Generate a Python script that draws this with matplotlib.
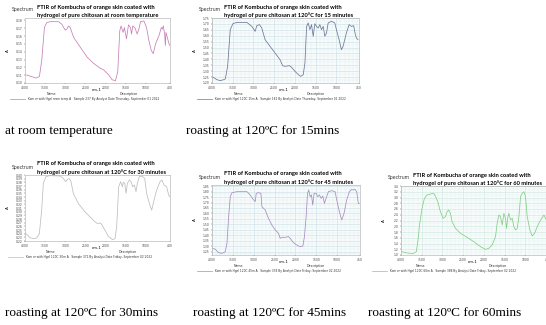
import matplotlib.pyplot as plt
from matplotlib.ticker import MultipleLocator
from matplotlib.lines import Line2D

W, H = 546, 325

# --- spectra (wavenumber cm-1, absorbance A) ---
wn_room = [3975, 3792, 3726, 3642, 3584, 3518, 3460, 3376, 3169, 3085, 3002, 2961, 2919, 2878,
           2794, 2628, 2462, 2296, 2129, 2046, 1921, 1838, 1755, 1697, 1647, 1614, 1564, 1531,
           1481, 1431, 1381, 1356, 1323, 1273, 1215, 1173, 1132, 1048, 982, 924, 866, 816, 758,
           674, 616, 591, 566, 533, 516, 500, 467, 425, 400]
ab_room = [0.1104, 0.1075, 0.1063, 0.1083, 0.1292, 0.1708, 0.1771, 0.1783, 0.1783, 0.1750,
           0.1675, 0.1688, 0.1729, 0.1708, 0.1583, 0.1458, 0.1333, 0.1250, 0.1188, 0.1167,
           0.1104, 0.1042, 0.1029, 0.1146, 0.1667, 0.1729, 0.1646, 0.1708, 0.1563, 0.1742,
           0.1708, 0.1625, 0.1729, 0.1708, 0.1625, 0.1688, 0.1783, 0.1792, 0.1708, 0.1542,
           0.1417, 0.1375, 0.1500, 0.1604, 0.1708, 0.1688, 0.1729, 0.1625, 0.1479, 0.1646,
           0.1583, 0.1500, 0.1479]

wn_15 = [3984, 3880, 3800, 3720, 3679, 3623, 3559, 3495, 3399, 3159, 3038, 2958, 2918, 2854,
         2798, 2718, 2598, 2477, 2357, 2294, 2237, 2133, 2077, 1997, 1916, 1860, 1796, 1756,
         1716, 1676, 1636, 1596, 1556, 1516, 1476, 1436, 1395, 1355, 1315, 1275, 1235, 1195,
         1115, 1035, 995, 931, 875, 835, 754, 690, 634, 578, 546, 514, 474]
ab_15 = [1.251, 1.228, 1.220, 1.228, 1.234, 1.341, 1.651, 1.702, 1.713, 1.713, 1.679, 1.637,
         1.685, 1.694, 1.665, 1.567, 1.510, 1.454, 1.397, 1.347, 1.341, 1.347, 1.333, 1.299,
         1.271, 1.256, 1.271, 1.369, 1.679, 1.708, 1.651, 1.694, 1.595, 1.702, 1.679, 1.665,
         1.694, 1.651, 1.679, 1.595, 1.623, 1.708, 1.722, 1.708, 1.651, 1.567, 1.482, 1.510,
         1.623, 1.694, 1.679, 1.685, 1.623, 1.581, 1.567]

wn_30 = [3975, 3876, 3793, 3710, 3644, 3586, 3545, 3479, 3379, 3131, 3048, 2990, 2949, 2899,
         2858, 2800, 2676, 2510, 2386, 2262, 2196, 2138, 2097, 2014, 1931, 1823, 1766, 1724,
         1674, 1625, 1583, 1559, 1525, 1492, 1459, 1410, 1368, 1327, 1285, 1244, 1211, 1161,
         1079, 1029, 979, 913, 855, 797, 731, 648, 599, 549, 483, 433, 408]
ab_30 = [0.2401, 0.2291, 0.2264, 0.2282, 0.2401, 0.3041, 0.3772, 0.3955, 0.3982, 0.3973,
         0.3909, 0.3818, 0.3882, 0.3900, 0.3818, 0.3498, 0.3224, 0.2995, 0.2858, 0.2721,
         0.2675, 0.2694, 0.2657, 0.2492, 0.2328, 0.2237, 0.2264, 0.2584, 0.3681, 0.3818,
         0.3681, 0.3800, 0.3772, 0.3498, 0.3772, 0.3863, 0.3818, 0.3681, 0.3726, 0.3544,
         0.3772, 0.3955, 0.3955, 0.3909, 0.3498, 0.3224, 0.3041, 0.3315, 0.3589, 0.3818,
         0.3863, 0.3726, 0.3681, 0.3452, 0.3406]

wn_45 = [3984, 3920, 3840, 3761, 3681, 3641, 3601, 3561, 3521, 3402, 3162, 3083, 3003, 2963,
         2939, 2883, 2827, 2803, 2724, 2644, 2564, 2484, 2404, 2365, 2325, 2245, 2165, 2125,
         2045, 1966, 1886, 1822, 1782, 1742, 1710, 1678, 1647, 1615, 1583, 1551, 1503, 1463,
         1423, 1383, 1343, 1303, 1264, 1208, 1128, 1048, 1008, 944, 889, 833, 769, 705, 649,
         609, 569, 530, 490, 466]
ab_45 = [1.281, 1.272, 1.241, 1.235, 1.250, 1.327, 1.571, 1.753, 1.790, 1.799, 1.799, 1.769,
         1.723, 1.708, 1.784, 1.790, 1.784, 1.662, 1.631, 1.555, 1.494, 1.449, 1.418, 1.372,
         1.382, 1.382, 1.388, 1.372, 1.333, 1.311, 1.296, 1.302, 1.388, 1.571, 1.784, 1.814,
         1.753, 1.769, 1.677, 1.784, 1.784, 1.753, 1.769, 1.738, 1.759, 1.692, 1.738, 1.799,
         1.808, 1.799, 1.723, 1.616, 1.540, 1.601, 1.723, 1.799, 1.820, 1.814, 1.820, 1.799,
         1.692, 1.692]

wn_60 = [3976, 3895, 3774, 3694, 3629, 3589, 3548, 3492, 3435, 3371, 3290, 3210, 3169, 3113,
         3048, 2984, 2927, 2887, 2847, 2806, 2766, 2685, 2564, 2403, 2242, 2081, 1960, 1879,
         1798, 1718, 1677, 1637, 1597, 1556, 1516, 1476, 1452, 1419, 1395, 1355, 1314, 1274,
         1234, 1193, 1153, 1113, 1072, 1032, 992, 952, 887, 831, 774, 710, 629, 548, 508, 468]
ab_60 = [1.116, 1.081, 1.058, 1.058, 1.116, 1.522, 2.101, 2.623, 2.971, 3.087, 3.122, 3.145,
         3.052, 2.855, 2.507, 2.275, 2.333, 2.507, 2.565, 2.449, 2.159, 1.928, 1.754, 1.614,
         1.464, 1.290, 1.197, 1.232, 1.348, 1.638, 2.101, 2.391, 2.333, 2.043, 2.449, 2.275,
         1.928, 2.333, 2.449, 2.217, 2.275, 1.986, 1.870, 1.928, 2.333, 3.029, 3.145, 3.203,
         3.029, 2.333, 1.870, 1.661, 1.754, 1.986, 2.217, 2.391, 2.275, 2.159]

titles = ["hydrogel of pure chitosan at room temperature",
          "hydrogel of pure chitosan at 120\u00b0C for 15 minutes",
          "hydrogel of pure chitosan at 120\u00b0C for 30 minutes",
          "hydrogel of pure chitosan at 120\u00b0C for 45 minutes",
          "hydrogel of pure chitosan at 120\u00b0C for 60 minutes"]
names = ["Kom or with Hgel room temp A", "Kom or with Hgel 120C 15m A",
         "Kom or with Hgel 120C 30m A", "Kom or with Hgel 120C 45m A",
         "Kom or with Hgel 120C 60m A"]
descs = ["Sample 237 By Analyst Date Thursday, September 01 2022",
         "Sample 182 By Analyst Date Thursday, September 01 2022",
         "Sample 372 By Analyst Date Friday, September 02 2022",
         "Sample 378 By Analyst Date Friday, September 02 2022",
         "Sample 388 By Analyst Date Friday, September 02 2022"]
captions = ["at room temperature", "roasting at 120\u00baC for 15mins",
            "roasting at 120\u00baC for 30mins", "roasting at 120\u00baC for 45mins",
            "roasting at 120\u00baC for 60mins"]

fig = plt.figure(figsize=(W / 100, H / 100), dpi=100)


def ftext(x, y, s, **kw):
    kw.setdefault('va', 'center')
    fig.text(x / W, 1 - y / H, s, **kw)


def panel(i, box, wn, ab, color, ylim, ystep, xend, grid, gridcol, leg_dx):
    x0, y0, x1, y1 = box
    ax = fig.add_axes([x0 / W, 1 - y1 / H, (x1 - x0) / W, (y1 - y0) / H])
    ax.plot(wn, ab, color=color, lw=0.55)
    ax.set_xlim(4000, xend)
    ax.set_ylim(*ylim)
    xt = [4000, 3500, 3000, 2500, 2000, 1500, 1000, xend]
    ax.set_xticks(xt)
    ax.set_xticklabels([str(v) for v in xt])
    ax.yaxis.set_major_locator(MultipleLocator(ystep))
    ax.yaxis.set_major_formatter(plt.FormatStrFormatter('%.2f' if ystep < 0.1 else '%.1f'))
    ax.tick_params(labelsize=2.2, length=1, width=0.3, pad=1, colors='#444444')
    for s in ax.spines.values():
        s.set_linewidth(0.4)
        s.set_color('#aaaaaa')
    if grid:
        ax.set_facecolor('#f7fbfb')
        ax.xaxis.set_minor_locator(MultipleLocator(100))
        ax.yaxis.set_minor_locator(MultipleLocator(ystep / 2))
        ax.grid(True, which='major', color=gridcol, lw=0.4)
        ax.grid(True, which='minor', color=gridcol, lw=0.2, alpha=0.6)
        ax.tick_params(which='minor', length=0)
        ax.set_axisbelow(True)
    # header
    ftext(x0 - 13, y0 - 8, "Spectrum", fontsize=3.3, color='#333333')
    ftext(x0 + 12, y0 - 11, "FTIR of Kombucha of orange skin coated with",
          fontsize=4.15, family='Lato', weight='bold')
    ftext(x0 + 12, y0 - 3, titles[i], fontsize=4.15, family='Lato', weight='bold')
    ftext(x0 - 17, (y0 + y1) / 2, "A", fontsize=3, rotation=90, ha='center')
    # footer
    ftext(x0 + 72, y1 + 7, "cm-1", fontsize=2.8, ha='center')
    ftext(x0 + 22 + leg_dx / 2, y1 + 11, "Name", fontsize=2.3, color='#333333')
    ftext(x0 + 95 + leg_dx / 2, y1 + 11, "Description", fontsize=2.3, color='#333333')
    fig.add_artist(Line2D([(x0 - 15 + leg_dx) / W, (x0 + leg_dx) / W], [1 - (y1 + 16) / H] * 2,
                          color=color, lw=0.5))
    ftext(x0 + 3 + leg_dx, y1 + 16, names[i] + "   " + descs[i], fontsize=2.05, color='#333333')


panel(0, (25, 18, 170, 83), wn_room, ab_room, '#c77fb6', (0.10, 0.183), 0.01, 400, False, None, 0)
panel(1, (212, 18, 359, 83), wn_15, ab_15, '#6b7796', (1.20, 1.75), 0.05, 450, True, '#c9dfe6', 0)
panel(2, (25, 175, 170, 241), wn_30, ab_30, '#bdbdbd', (0.22, 0.40), 0.01, 400, False, None, -2)
panel(3, (212, 185, 360, 255), wn_45, ab_45, '#a68cc0', (1.22, 1.86), 0.05, 450, True, '#c9dfe6', 0)
panel(4, (401, 186, 548, 255), wn_60, ab_60, '#7fcf85', (1.0, 3.4), 0.2, 450, True, '#cde6dc', -14)

cap_font = dict(family='Liberation Serif', fontsize=9.5)
ftext(5, 131, captions[0], **cap_font)
ftext(186, 131, captions[1], **cap_font)
ftext(5, 313, captions[2], **cap_font)
ftext(193, 313, captions[3], **cap_font)
ftext(368, 313, captions[4], **cap_font)

fig.savefig('out.png', dpi=100)
